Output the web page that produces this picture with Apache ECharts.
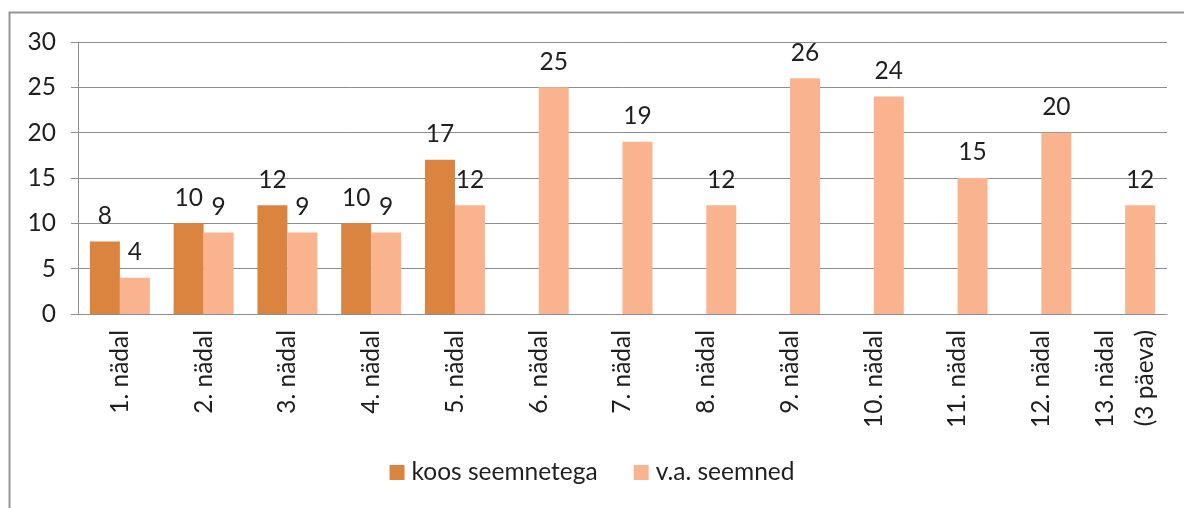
<!DOCTYPE html>
<html>
<head>
<meta charset="utf-8">
<script src="https://cdn.jsdelivr.net/npm/echarts@6/dist/echarts.min.js"></script>
<style>
  html, body { margin: 0; padding: 0; background: #fff; }
  #chart { width: 1184px; height: 508px; }
</style>
</head>
<body>
<div id="chart"></div>
<script>
// nädalad
const weeks = ["1. nädal", "2. nädal", "3. nädal", "4. nädal", "5. nädal", "6. nädal",
  "7. nädal", "8. nädal", "9. nädal", "10. nädal", "11. nädal", "12. nädal", "13. nädal\n(3 päeva)"];
const withSeeds = [8, 10, 12, 10, 17, null, null, null, null, null, null, null, null];
const withoutSeeds = [4, 9, 9, 9, 12, 25, 19, 12, 26, 24, 15, 20, 12];
const seriesNames = ["koos seemnetega", "v.a. seemned"];

const FONT = "Lato";
const FS = 24.5;
const TXT = "#1f1f1f";
const GRIDC = "#8e8e8e";

const chart = echarts.init(document.getElementById("chart"));

const label = {
  show: true,
  position: "top",
  distance: 13,
  fontFamily: FONT,
  fontSize: FS,
  color: TXT
};

chart.setOption({
  animation: false,
  color: ["#DA843F", "#F9B48F"],
  graphic: [{
    type: "rect",
    shape: { x: 9.5, y: 12.5, width: 1300, height: 700 },
    style: { fill: "none", stroke: "#969696", lineWidth: 2 },
    silent: true
  }],
  grid: { left: 78, right: 17, top: 42, bottom: 194 },
  legend: {
    bottom: 18,
    left: "center",
    itemWidth: 15,
    itemHeight: 15,
    itemGap: 36,
    icon: "rect",
    textStyle: { fontFamily: FONT, fontSize: FS, color: TXT, padding: [0, 0, 0, 2] },
    data: seriesNames
  },
  xAxis: {
    type: "category",
    data: weeks,
    axisLine: { lineStyle: { color: GRIDC } },
    axisTick: { length: 6, lineStyle: { color: GRIDC } },
    axisLabel: {
      rotate: 90,
      interval: 0,
      margin: 16,
      fontFamily: FONT,
      fontSize: FS,
      lineHeight: 40,
      color: TXT
    }
  },
  yAxis: {
    type: "value",
    min: 0,
    max: 30,
    interval: 5,
    axisLine: { show: true, lineStyle: { color: GRIDC } },
    axisTick: { show: true, length: 7, lineStyle: { color: GRIDC } },
    splitLine: { lineStyle: { color: GRIDC } },
    axisLabel: { margin: 22, fontFamily: FONT, fontSize: FS, color: TXT }
  },
  series: [
    { name: seriesNames[0], type: "bar", data: withSeeds, barWidth: 30, barGap: "0%", label: label },
    { name: seriesNames[1], type: "bar", data: withoutSeeds, barWidth: 30, barGap: "0%", label: label }
  ]
});
</script>
</body>
</html>
